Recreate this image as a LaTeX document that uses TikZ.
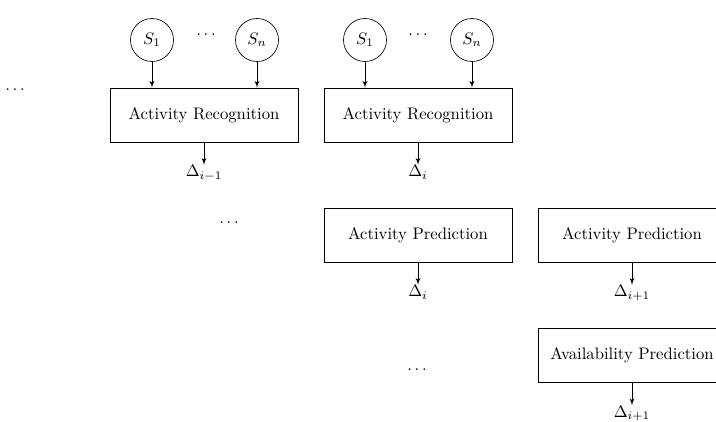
\documentclass[tikz,border=0pt]{standalone}
\usepackage{amsmath}
\usepackage{tikz}
\usetikzlibrary{arrows, shapes, positioning, calc}
\tikzset{
   mybox/.style={draw, minimum height=32.4pt, minimum width=112.8pt},
   mysensor/.style={draw, circle, minimum size=25.8pt, inner sep=0pt},
   mydelta/.style={draw=none, inner sep=0pt},
   mydots/.style={draw=none, inner sep=0pt, anchor=base}
}

\begin{document}
\begin{tikzpicture}[x=0.6pt, y=-0.6pt, >=latex']
   \tikzstyle{line} = [draw, -latex']
   \clip (0,0) rectangle (716,421);
   % boxes
   \node[mybox] (rec1) at (204,115) {Activity Recognition};
   \node[mybox] (rec2) at (418,115) {Activity Recognition};
   \node[mybox] (pred1) at (418,235) {Activity Prediction};
   \node[mybox] (pred2) at (632,235) {Activity Prediction};
   \node[mybox] (avail) at (632,355.5) {Availability Prediction};
   % sensors
   \node[mysensor] (s11) at (152,40) {$S_1$};
   \node[mysensor] (s1n) at (257,40) {$S_n$};
   \node[mysensor] (s21) at (365,40) {$S_1$};
   \node[mysensor] (s2n) at (472,40) {$S_n$};
   % dots
   \node[mydots] (dots1) at (206,35) {$\ldots$};
   \node[mydots] (dots2) at (418,35) {$\ldots$};
   \node[mydots] (dots3) at (15,90.5) {$\ldots$};
   \node[mydots] (dots4) at (229,223.5) {$\ldots$};
   \node[mydots] (dots5) at (417,370.5) {$\ldots$};
   % outputs
   \node[mydelta, below=13.5pt of rec1] (d1) {$\Delta_{i-1}$};
   \node[mydelta, below=13.5pt of rec2] (d2) {$\Delta_{i}$};
   \node[mydelta, below=13.5pt of pred1] (d3) {$\Delta_{i}$};
   \node[mydelta, below=13.5pt of pred2] (d4) {$\Delta_{i+1}$};
   \node[mydelta, below=13.5pt of avail] (d5) {$\Delta_{i+1}$};
   \path [line] (s11) -- (s11 |- rec1.north);
   \path [line] (s1n) -- (s1n |- rec1.north);
   \path [line] (s21) -- (s21 |- rec2.north);
   \path [line] (s2n) -- (s2n |- rec2.north);
   \path [line] (rec1.south) -- (d1.north);
   \path [line] (rec2.south) -- (d2.north);
   \path [line] (pred1.south) -- (d3.north);
   \path [line] (pred2.south) -- (d4.north);
   \path [line] (avail.south) -- (d5.north);
\end{tikzpicture}
\end{document}
